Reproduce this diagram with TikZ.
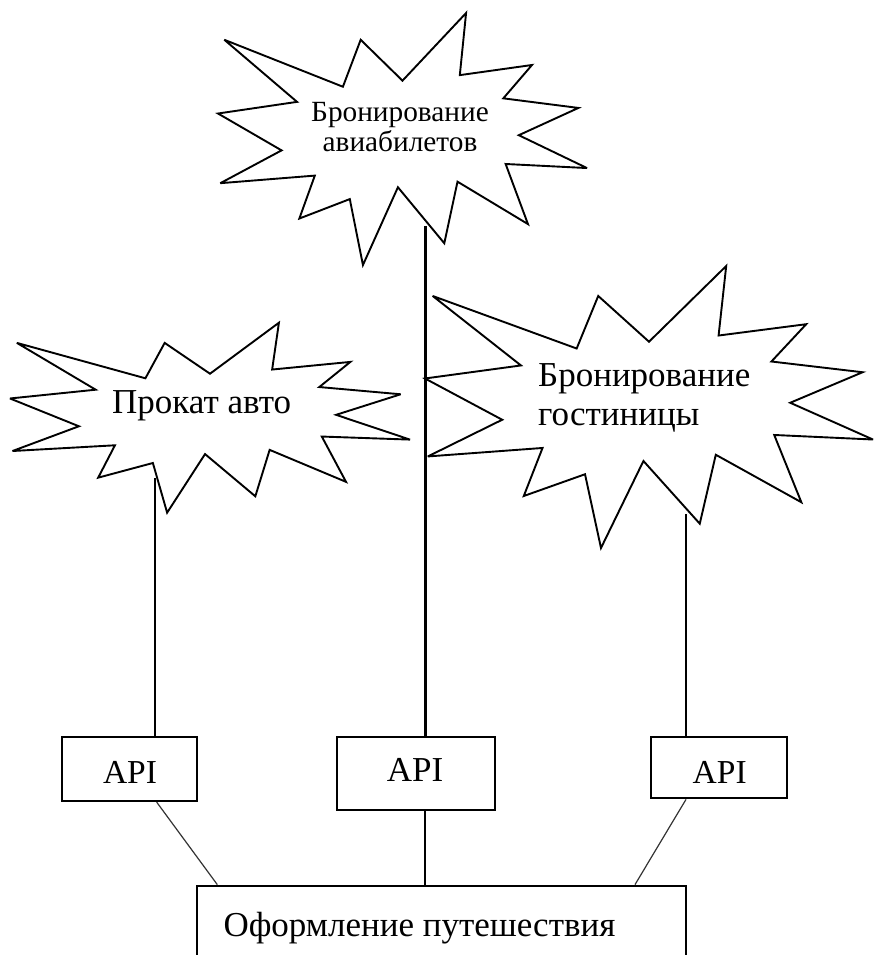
\documentclass[tikz,border=0pt]{standalone}
\usepackage{fontspec}
\setmainfont{Liberation Serif}
\begin{document}
\begin{tikzpicture}[x=1pt,y=-1pt,
  burstline/.style={draw=black, line width=1.9pt, line join=miter, miter limit=4, fill=white},
  apibox/.style={draw=black, line width=2.2pt, rectangle, inner sep=0pt, fill=white},
  stem/.style={draw=black, line width=2.3pt},
  tie/.style={draw=black!80, line width=1.2pt},
  burst/.pic={
    \path[burstline] (108,58) -- (83.52,22.95) -- (73.12,63.2) -- (3.7,22.95)
      -- (46.27,76.17) -- (0,86.15) -- (37.22,117.75) -- (1.35,145.87)
      -- (56.67,139.37) -- (47.62,176.17) -- (77.15,159.5) -- (84.85,216)
      -- (105.32,149.35) -- (132.47,197.37) -- (140.2,144.57) -- (181.45,180.95)
      -- (168.37,129.42) -- (216,132.9) -- (176.07,104.75) -- (210.97,81.37)
      -- (167.02,73.15) -- (183.8,44.57) -- (141.55,53.25) -- (145.22,0) -- cycle;
  }]
\useasboundingbox (0,0) rectangle (875,955);
\clip (0,0) rectangle (875,955);
\fill[white] (0,0) rectangle (875,955);

% bursts
\pic[xscale=1.7083, yscale=1.1667] at (218,13) {burst};
\pic[xscale=1.8519, yscale=0.8796] at (10,322.7) {burst};
\pic[xscale=2.0741, yscale=1.3056] at (425,266) {burst};

% burst captions (base anchor sits on the last line)
\node[align=center, font=\fontsize{29.3}{30}\selectfont, anchor=base, inner sep=0pt] (air)
  at (400,151.7) {Бронирование\\авиабилетов};
\node[font=\fontsize{35}{40}\selectfont, anchor=base, inner sep=0pt] (car)
  at (201.7,413) {Прокат авто};
\node[align=left, font=\fontsize{35}{38.3}\selectfont, anchor=base west, inner sep=0pt] (hotel)
  at (538,425) {Бронирование\\гостиницы};

% stem start points on the bursts
\coordinate (airS) at (425.5,226);
\coordinate (carS) at (155,478);
\coordinate (hotelS) at (686,514);

% API boxes
\node[apibox, minimum width=135.5pt, minimum height=63.7pt] (apiL) at (129.5,769.2) {};
\node[apibox, minimum width=157.7pt, minimum height=72.7pt] (apiM) at (416.2,773.7) {};
\node[apibox, minimum width=136.6pt, minimum height=61pt] (apiR) at (719,767.8) {};
\node[font=\fontsize{33.5}{36}\selectfont, anchor=base, inner sep=0pt] (apiLt) at (130,783.3) {API};
\node[font=\fontsize{35}{38}\selectfont, anchor=base, inner sep=0pt] (apiMt) at (415,781.7) {API};
\node[font=\fontsize{33.5}{36}\selectfont, anchor=base, inner sep=0pt] (apiRt) at (719.7,783.3) {API};

% travel booking box
\node[apibox, minimum width=488.7pt, minimum height=140pt] (trip) at (441.7,955.7) {};
\node[font=\fontsize{35}{38}\selectfont, anchor=base west, inner sep=0pt] (tripT) at (223.3,936) {Оформление путешествия};

% stems from bursts to API boxes
\draw[stem] (airS) -- (airS |- apiM.north);
\draw[stem] (carS) -- (carS |- apiL.north);
\draw[stem] (hotelS) -- (hotelS |- apiR.north);

% links from API boxes to travel booking
\draw[tie] ([xshift=27.2pt]apiL.south) -- ([xshift=-224.4pt]trip.north);
\draw[stem] ([xshift=9.1pt]apiM.south) -- ([xshift=-16.4pt]trip.north);
\draw[tie] ([xshift=-33pt]apiR.south) -- ([xshift=193.3pt]trip.north);
\end{tikzpicture}
\end{document}
